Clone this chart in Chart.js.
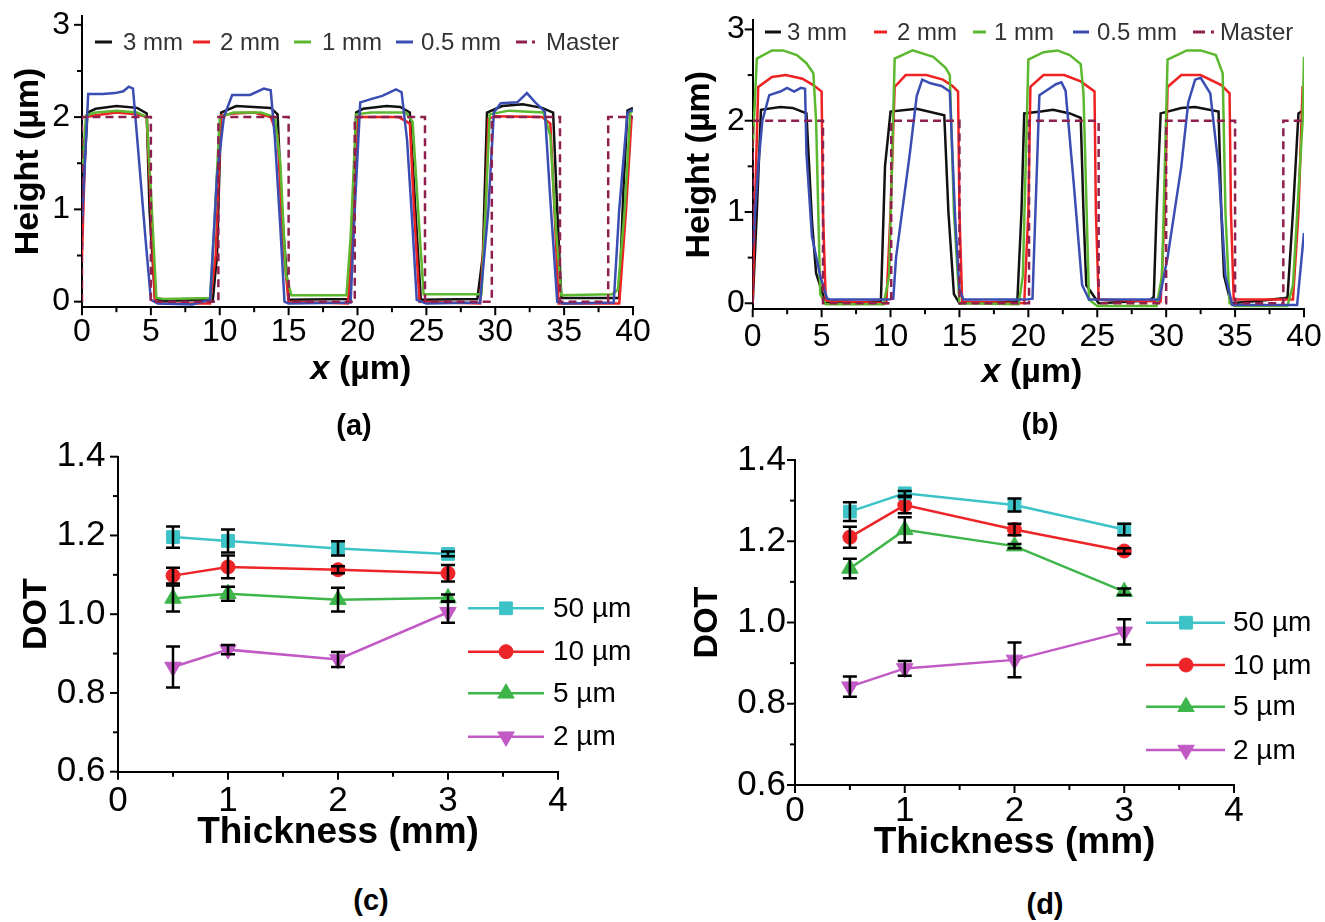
<!DOCTYPE html>
<html><head><meta charset="utf-8">
<script src="https://cdn.jsdelivr.net/npm/chart.js@4.4.1/dist/chart.umd.min.js"></script>
<style>
html,body{margin:0;padding:0;background:#fff}
body{width:1325px;height:922px;position:relative;overflow:hidden;font-family:"Liberation Sans",Arial,Helvetica,sans-serif}
canvas{position:absolute}
.plab{position:absolute;font-weight:bold;font-size:29px;color:#000;transform:translate(-50%,-50%);white-space:nowrap}
</style></head><body>
<canvas id="ca" width="660" height="400" style="left:0;top:0"></canvas>
<canvas id="cb" width="665" height="400" style="left:660px;top:0"></canvas>
<canvas id="cc" width="660" height="440" style="left:0;top:440px"></canvas>
<canvas id="cd" width="665" height="440" style="left:660px;top:440px"></canvas>
<div class="plab" style="left:354px;top:425px">(a)</div>
<div class="plab" style="left:1040px;top:424px">(b)</div>
<div class="plab" style="left:371px;top:900px">(c)</div>
<div class="plab" style="left:1045px;top:904px">(d)</div>
<script>
// ================= DATA =================
const profileLabels = ['3 mm', '2 mm', '1 mm', '0.5 mm', 'Master'];
const profXTicks = [0, 5, 10, 15, 20, 25, 30, 35, 40];
const profYTicks = [0, 1, 2, 3];

// (a) height profiles [x (µm), height (µm)]
const a_3mm = [[0,1.0],[0.4,2.05],[1.0,2.09],[2.5,2.12],[4.0,2.10],[4.7,2.04],[4.9,1.0],[5.3,0.03],[6,0.01],[9.5,0.02],[9.8,0.5],[10.1,2.05],[11.2,2.12],[13.7,2.1],[14.2,2.03],[14.5,1.0],[15.0,0.02],[19.4,0.03],[19.7,1.0],[19.9,2.05],[20.4,2.09],[22.1,2.12],[23.1,2.11],[23.8,2.05],[24.2,1.0],[24.6,0.02],[28.7,0.03],[29.1,0.5],[29.4,2.05],[30.5,2.12],[32.0,2.14],[33.4,2.1],[34.2,2.05],[34.5,1.0],[34.8,0.04],[39.0,0.04],[39.3,1.2],[39.6,2.07],[40,2.1]];
const a_2mm = [[0,0.5],[0.3,2.0],[1,2.02],[2.5,2.05],[4.0,2.03],[4.7,2.0],[5.0,1.0],[5.3,0.0],[6,-0.02],[9.3,-0.02],[9.7,0.5],[10.1,2.02],[11,2.04],[12.5,2.05],[13.7,2.0],[14.2,1.8],[14.6,0.6],[15.0,0.0],[19.3,-0.02],[19.7,0.8],[20.0,2.0],[21,2.0],[23,2.0],[23.8,1.93],[24.1,1.0],[24.5,0.0],[28.9,-0.02],[29.3,1.0],[29.5,1.98],[30,2.01],[33.4,2.0],[34.0,1.93],[34.3,1.0],[34.6,-0.02],[39.0,-0.02],[39.5,1.0],[39.9,2.0],[40,1.98]];
const a_1mm = [[0,1.4],[0.3,2.02],[1,2.05],[2.5,2.07],[4.0,2.05],[4.7,2.0],[5.0,1.2],[5.4,0.04],[6,0.03],[9.3,0.04],[9.6,0.8],[10.0,2.0],[11,2.05],[13,2.05],[14.0,2.0],[14.4,1.5],[14.8,0.3],[15.2,0.07],[19.2,0.07],[19.5,0.7],[19.9,2.03],[21,2.05],[23.5,2.05],[24.0,1.95],[24.4,1.0],[24.8,0.08],[29.0,0.08],[29.3,1.0],[29.6,2.03],[31,2.07],[33.5,2.05],[34.0,1.8],[34.4,0.8],[34.8,0.07],[38.5,0.08],[38.9,0.13],[39.4,1.0],[39.8,2.05],[40,2.07]];
const a_05mm = [[0,0.85],[0.45,2.25],[1.5,2.25],[2.4,2.26],[3.0,2.28],[3.4,2.33],[3.7,2.31],[4.0,1.78],[4.6,0.7],[5.0,0.02],[5.5,-0.02],[8,-0.03],[9.3,0.02],[9.8,1.37],[10.3,2.0],[10.9,2.24],[12.2,2.24],[13.2,2.31],[13.7,2.29],[14.0,1.78],[14.4,0.8],[14.7,0.0],[15,-0.02],[19.5,-0.01],[19.8,1.0],[20.2,2.16],[21.1,2.2],[21.8,2.23],[22.8,2.3],[23.2,2.27],[23.6,1.75],[24.0,0.8],[24.3,0.02],[25,-0.02],[28.9,-0.01],[29.5,1.0],[29.9,2.05],[30.4,2.15],[31.6,2.16],[32.3,2.26],[32.9,2.16],[33.6,2.06],[34.0,1.1],[34.5,0.0],[35,-0.02],[38.6,-0.01],[39.0,1.0],[39.6,2.05],[40,2.08]];
const a_master = [[0,0],[0,2],[5.0,2],[5.0,0],[9.9,0],[9.9,2],[15.0,2],[15.0,0],[19.8,0],[19.8,2],[24.9,2],[24.9,0],[29.75,0],[29.75,2],[34.7,2],[34.7,0],[38.2,0],[38.2,2],[40,2]];

// (b) height profiles
const b_3mm = [[0,0],[0.3,1.0],[0.6,2.12],[2.0,2.15],[2.9,2.14],[3.9,2.08],[4.3,0.9],[4.6,0.33],[5.3,0.0],[9.3,0.02],[9.6,1.5],[10.0,2.1],[11.9,2.13],[13.9,2.06],[14.2,1.0],[14.6,0.1],[15.0,0.0],[19.2,0.02],[19.5,1.0],[19.7,2.08],[20.9,2.1],[21.8,2.12],[23.0,2.08],[23.8,2.03],[24.0,1.0],[24.2,0.2],[25.1,0.0],[28.8,0.03],[29.1,0.07],[29.3,1.0],[29.6,2.08],[31.1,2.14],[32.1,2.15],[33.8,2.1],[34.0,1.0],[34.2,0.3],[34.7,0.0],[37,0.03],[38.8,0.06],[39.2,1.0],[39.6,2.08],[40,2.12]];
const b_2mm = [[0,0],[0.15,1.0],[0.4,2.37],[1.4,2.48],[2.4,2.5],[3.6,2.46],[4.4,2.39],[5.0,2.32],[5.1,1.0],[5.3,0.03],[9.7,0.0],[10.0,1.0],[10.3,2.37],[11.1,2.5],[12.6,2.5],[13.8,2.45],[14.5,2.38],[14.9,2.32],[15.0,1.0],[15.2,0.02],[19.7,0.0],[20.0,1.0],[20.15,2.37],[21.1,2.5],[22.6,2.5],[23.8,2.43],[24.8,2.32],[24.9,1.0],[25.1,0.04],[29.6,0.02],[29.9,1.0],[30.1,2.37],[31.1,2.5],[32.5,2.5],[34.0,2.39],[34.6,2.3],[34.7,1.0],[34.9,0.04],[39.2,0.04],[39.6,1.0],[39.9,2.37],[40,2.38]];
const b_1mm = [[0,1.7],[0.3,2.68],[1.4,2.77],[2.2,2.77],[3.2,2.72],[3.9,2.63],[4.4,2.52],[4.6,2.0],[4.9,0.1],[5.3,-0.01],[9.5,-0.01],[9.9,0.3],[10.3,2.68],[11.6,2.77],[13.1,2.7],[14.0,2.58],[14.3,2.5],[14.6,1.0],[15.0,0.0],[19.3,-0.01],[19.6,0.3],[20.0,2.67],[21.1,2.75],[22.1,2.77],[23.0,2.72],[23.8,2.62],[24.0,2.3],[24.4,0.04],[25,-0.03],[29.3,-0.03],[29.7,0.3],[30.1,2.67],[31.5,2.77],[32.5,2.77],[33.6,2.72],[34.1,2.52],[34.3,1.0],[34.6,0.0],[35,-0.03],[38.8,-0.03],[39.2,0.2],[39.9,2.0],[40,2.7]];
const b_05mm = [[0,0.6],[0.4,1.5],[0.7,2.0],[1.2,2.28],[2.0,2.32],[2.5,2.36],[3.0,2.32],[3.5,2.36],[3.8,2.35],[3.9,1.64],[4.3,0.73],[4.9,0.3],[5.4,0.05],[5.7,0.04],[9.8,0.04],[10.2,0.05],[10.4,0.5],[11.4,1.64],[11.9,2.27],[12.3,2.45],[12.9,2.41],[13.7,2.38],[14.3,2.32],[14.7,0.9],[15.0,0.15],[15.3,0.04],[19.8,0.04],[20.3,0.05],[20.8,2.28],[21.4,2.34],[22.0,2.4],[22.4,2.42],[22.7,2.33],[23.3,1.3],[23.9,0.2],[24.4,0.04],[29.5,0.04],[30.1,0.5],[31.1,1.5],[31.6,2.2],[32.1,2.45],[32.5,2.47],[33.2,2.3],[33.8,1.5],[34.3,0.3],[34.8,-0.02],[39.5,-0.02],[40,0.77]];
const b_master = [[0,0],[0,2],[5.1,2],[5.1,0],[10.05,0],[10.05,2],[15.0,2],[15.0,0],[20.05,0],[20.05,2],[25.1,2],[25.1,0],[30.0,0],[30.0,2],[35.0,2],[35.0,0],[38.5,0],[38.5,2],[40,2]];

// (c),(d) DOT vs thickness
const thickness = [0.5, 1, 2, 3];
const dotLabels = ['50 µm', '10 µm', '5 µm', '2 µm'];
const dotXTicks = [0, 1, 2, 3, 4];
const dotYTicks = [0.6, 0.8, 1.0, 1.2, 1.4];
const c_50 = [1.196, 1.186, 1.167, 1.153];   const c_50_err = [0.027, 0.029, 0.018, 0.006];
const c_10 = [1.098, 1.120, 1.113, 1.104];   const c_10_err = [0.020, 0.029, 0.009, 0.021];
const c_5  = [1.040, 1.052, 1.037, 1.041];   const c_5_err  = [0.033, 0.018, 0.030, 0.009];
const c_2  = [0.866, 0.910, 0.885, 1.005];   const c_2_err  = [0.052, 0.012, 0.019, 0.027];
const d_50 = [1.273, 1.318, 1.289, 1.229];   const d_50_err = [0.023, 0.006, 0.016, 0.014];
const d_10 = [1.210, 1.289, 1.229, 1.176];   const d_10_err = [0.026, 0.020, 0.014, 0.007];
const d_5  = [1.133, 1.228, 1.188, 1.076];   const d_5_err  = [0.024, 0.031, 0.005, 0.008];
const d_2  = [0.842, 0.887, 0.908, 0.977];   const d_2_err  = [0.025, 0.018, 0.043, 0.031];

// ================= STYLE =================
const FF = '"Liberation Sans", Arial, Helvetica, sans-serif';
Chart.defaults.font.family = FF;
const PROF_COLORS = ['#111111', '#ee2222', '#5cb82e', '#3a4db3', '#8e1f4e'];
const PROF_ORDER = [4, 3, 2, 1, 0];
const DOT_STYLE = [
  {color: '#3cc3c8', ps: 'rect', r: 9, rot: 0},
  {color: '#ee2528', ps: 'circle', r: 7, rot: 0},
  {color: '#3db54a', ps: 'triangle', r: 9.5, rot: 0},
  {color: '#c15ac4', ps: 'triangle', r: 9.5, rot: 180}
];

function majorLabel(list, digits) {
  return v => {
    const m = list.find(t => Math.abs(t - v) < 1e-6);
    return m === undefined ? '' : m.toFixed(digits);
  };
}

// ================= PLUGINS =================
const tickMarks = {
  id: 'tickMarks',
  afterDraw(chart, args, o) {
    const ctx = chart.ctx, a = chart.chartArea;
    ctx.save(); ctx.strokeStyle = '#000'; ctx.lineWidth = 2;
    ['x', 'y'].forEach(k => {
      const s = chart.scales[k];
      s.ticks.forEach(t => {
        const p = s.getPixelForValue(t.value);
        const len = t.label !== '' ? o.major : o.minor;
        ctx.beginPath();
        if (k === 'x') { ctx.moveTo(p, a.bottom); ctx.lineTo(p, a.bottom + len); }
        else { ctx.moveTo(a.left, p); ctx.lineTo(a.left - len, p); }
        ctx.stroke();
      });
    });
    ctx.restore();
  }
};

const rowLegend = {
  id: 'rowLegend',
  afterDraw(chart, args, o) {
    const ctx = chart.ctx;
    ctx.save();
    ctx.font = o.font; ctx.fillStyle = o.color; ctx.textBaseline = 'middle'; ctx.textAlign = 'left';
    chart.data.datasets.forEach((ds, i) => {
      const it = o.items[i];
      ctx.beginPath();
      ctx.strokeStyle = ds.borderColor; ctx.lineWidth = 3;
      ctx.setLineDash(it[3] || []);
      ctx.moveTo(it[0], o.y); ctx.lineTo(it[1], o.y); ctx.stroke();
      ctx.setLineDash([]);
      ctx.fillText(ds.label, it[2], o.y + 1);
    });
    ctx.restore();
  }
};

const xTitle = {
  id: 'xTitle',
  afterDraw(chart, args, o) {
    const ctx = chart.ctx;
    ctx.save();
    ctx.fillStyle = '#000'; ctx.textBaseline = 'middle'; ctx.textAlign = 'left';
    const fi = 'italic bold ' + o.size + 'px ' + FF, fb = 'bold ' + o.size + 'px ' + FF;
    ctx.font = fi; const w1 = ctx.measureText('x').width;
    ctx.font = fb; const w2 = ctx.measureText(' (µm)').width;
    const x0 = o.x - (w1 + w2) / 2;
    ctx.font = fi; ctx.fillText('x', x0, o.y);
    ctx.font = fb; ctx.fillText(' (µm)', x0 + w1, o.y);
    ctx.restore();
  }
};

function drawMarker(ctx, ps, x, y, r, rot, color) {
  ctx.save();
  ctx.fillStyle = color; ctx.strokeStyle = color; ctx.lineWidth = 1;
  ctx.beginPath();
  if (ps === 'rect') {
    const s = Math.SQRT1_2 * r; ctx.rect(x - s, y - s, 2 * s, 2 * s);
  } else if (ps === 'circle') {
    ctx.arc(x, y, r, 0, Math.PI * 2);
  } else {
    let rad = rot * Math.PI / 180;
    ctx.moveTo(x + Math.sin(rad) * r, y - Math.cos(rad) * r);
    rad += 2 * Math.PI / 3; ctx.lineTo(x + Math.sin(rad) * r, y - Math.cos(rad) * r);
    rad += 2 * Math.PI / 3; ctx.lineTo(x + Math.sin(rad) * r, y - Math.cos(rad) * r);
    ctx.closePath();
  }
  ctx.fill(); ctx.stroke();
  ctx.restore();
}

const colLegend = {
  id: 'colLegend',
  afterDraw(chart, args, o) {
    const ctx = chart.ctx;
    ctx.save();
    ctx.font = o.font; ctx.fillStyle = '#000'; ctx.textBaseline = 'middle'; ctx.textAlign = 'left';
    chart.data.datasets.forEach((ds, i) => {
      const y = o.ys[i];
      ctx.beginPath(); ctx.strokeStyle = ds.borderColor; ctx.lineWidth = ds.borderWidth;
      ctx.moveTo(o.x0, y); ctx.lineTo(o.x1, y); ctx.stroke();
      drawMarker(ctx, ds.pointStyle, o.xm, y, ds.pointRadius, ds.pointRotation, ds.pointBackgroundColor);
      ctx.fillText(ds.label, o.xt, y + 1);
    });
    ctx.restore();
  }
};

const errorBars = {
  id: 'errorBars',
  afterDatasetsDraw(chart, args, o) {
    const ctx = chart.ctx, ys = chart.scales.y;
    ctx.save(); ctx.strokeStyle = '#000'; ctx.lineWidth = o.width;
    chart.data.datasets.forEach((ds, i) => {
      const meta = chart.getDatasetMeta(i);
      meta.data.forEach((pt, j) => {
        const v = ds.data[j].y, e = ds.err[j];
        const yt = ys.getPixelForValue(v + e), yb = ys.getPixelForValue(v - e);
        ctx.beginPath();
        ctx.moveTo(pt.x, yt); ctx.lineTo(pt.x, yb);
        ctx.moveTo(pt.x - o.cap, yt); ctx.lineTo(pt.x + o.cap, yt);
        ctx.moveTo(pt.x - o.cap, yb); ctx.lineTo(pt.x + o.cap, yb);
        ctx.stroke();
      });
    });
    ctx.restore();
  }
};

// ================= CHART BUILDERS =================
function axisBase() {
  return {
    border: {display: true, color: '#000', width: 2},
    grid: {display: true, drawOnChartArea: false, drawTicks: true, tickLength: 8, tickColor: 'rgba(0,0,0,0)'}
  };
}

function profileChart(id, series, L) {
  const datasets = series.map((pts, i) => ({
    label: profileLabels[i],
    data: pts.map(p => ({x: p[0], y: p[1]})),
    borderColor: PROF_COLORS[i],
    borderWidth: 2.5,
    borderDash: i === 4 ? [8, 5] : [],
    pointRadius: 0, tension: 0, fill: false,
    order: PROF_ORDER[i]
  }));
  return new Chart(document.getElementById(id), {
    type: 'line',
    data: {datasets},
    options: {
      responsive: false, animation: false, events: [],
      layout: {padding: L.pad},
      scales: {
        x: Object.assign(axisBase(), {
          type: 'linear', min: 0, max: 40,
          afterFit: s => { s.height = L.xH; s.paddingLeft = 0; s.paddingRight = 0; },
          ticks: {stepSize: 2.5, maxTicksLimit: 1000, autoSkip: false, maxRotation: 0, minRotation: 0,
                  padding: L.xPad, color: '#000', font: {size: 32, lineHeight: 1}, callback: majorLabel(profXTicks, 0)},
          title: {display: false}
        }),
        y: Object.assign(axisBase(), {
          type: 'linear', min: L.yMin, max: 3.1,
          afterFit: s => { s.width = L.yW; s.paddingTop = 0; s.paddingBottom = 0; },
          ticks: {stepSize: 0.5, maxTicksLimit: 1000, includeBounds: false, autoSkip: false,
                  padding: L.yPad, color: '#000', font: {size: 32, lineHeight: 1}, callback: majorLabel(profYTicks, 0)},
          title: {display: true, text: 'Height (µm)', color: '#000',
                  font: {size: 34, weight: 'bold', lineHeight: 1}, padding: {top: L.yTitlePad, bottom: 0}}
        })
      },
      plugins: {
        legend: {display: false}, tooltip: {enabled: false},
        tickMarks: {major: 8, minor: 5},
        rowLegend: {items: L.legend, y: L.legY, font: '24px ' + FF, color: '#333'},
        xTitle: {x: L.xTitleX, y: L.xTitleY, size: 34}
      }
    },
    plugins: [tickMarks, rowLegend, xTitle]
  });
}

function dotChart(id, vals, errs, L) {
  const datasets = vals.map((v, i) => ({
    label: dotLabels[i],
    data: thickness.map((t, j) => ({x: t, y: v[j]})),
    err: errs[i],
    borderColor: DOT_STYLE[i].color,
    borderWidth: 2.5,
    pointStyle: DOT_STYLE[i].ps,
    pointRadius: DOT_STYLE[i].r,
    pointRotation: DOT_STYLE[i].rot,
    pointBackgroundColor: DOT_STYLE[i].color,
    pointBorderColor: DOT_STYLE[i].color,
    pointBorderWidth: 1,
    tension: 0, fill: false
  }));
  return new Chart(document.getElementById(id), {
    type: 'line',
    data: {datasets},
    options: {
      responsive: false, animation: false, events: [],
      layout: {padding: L.pad},
      scales: {
        x: Object.assign(axisBase(), {
          type: 'linear', min: 0, max: 4,
          afterFit: s => { s.height = L.xH; s.paddingLeft = 0; s.paddingRight = 0; },
          ticks: {stepSize: 0.5, maxTicksLimit: 1000, autoSkip: false, maxRotation: 0, minRotation: 0,
                  padding: L.xPad, color: '#000', font: {size: 35, lineHeight: 1}, callback: majorLabel(dotXTicks, 0)},
          title: {display: true, text: 'Thickness (mm)', color: '#000',
                  font: {size: 37, weight: 'bold', lineHeight: 1}, padding: {top: 0, bottom: L.xTitlePad}}
        }),
        y: Object.assign(axisBase(), {
          type: 'linear', min: 0.6, max: 1.4,
          afterFit: s => { s.width = L.yW; s.paddingTop = 0; s.paddingBottom = 0; },
          ticks: {stepSize: 0.1, maxTicksLimit: 1000, includeBounds: false, autoSkip: false,
                  padding: L.yPad, color: '#000', font: {size: 35, lineHeight: 1}, callback: majorLabel(dotYTicks, 1)},
          title: {display: true, text: 'DOT', color: '#000',
                  font: {size: 34, weight: 'bold', lineHeight: 1}, padding: {top: L.yTitlePad, bottom: 0}}
        })
      },
      plugins: {
        legend: {display: false}, tooltip: {enabled: false},
        tickMarks: {major: 8, minor: 5},
        errorBars: {width: 2.5, cap: 7},
        colLegend: {x0: L.lx0, x1: L.lx1, xm: L.lxm, xt: L.lxt, ys: L.lys, font: '28px ' + FF}
      }
    },
    plugins: [tickMarks, errorBars, colLegend]
  });
}

// ================= BUILD =================
profileChart('ca', [a_3mm, a_2mm, a_1mm, a_05mm, a_master], {
  pad: {left: 0, top: 15.6, right: 27, bottom: 0}, yW: 82, xH: 92.8, yMin: -0.06,
  xPad: 1, yPad: 4, yTitlePad: 12, xTitleX: 361, xTitleY: 370,
  legY: 42,
  legend: [[95,112,123],[193,210,220],[294,311,322],[396,413,421],[516,536,546,[11,5,3,40]]]
});
profileChart('cb', [b_3mm, b_2mm, b_1mm, b_05mm, b_master], {
  pad: {left: 0, top: 20.3, right: 21, bottom: 0}, yW: 92.7, xH: 90.8, yMin: -0.065,
  xPad: 3.5, yPad: 0, yTitlePad: 23, xTitleX: 372, xTitleY: 373,
  legY: 32,
  legend: [[105,121,127],[214,227,237],[313,326,334],[413,429,437],[533,554,560,[12,6,3,40]]]
});
dotChart('cc', [c_50, c_10, c_5, c_2], [c_50_err, c_10_err, c_5_err, c_2_err], {
  pad: {left: 0, top: 16.7, right: 102, bottom: 0}, yW: 118, xH: 108.3,
  xPad: 4.5, yPad: 4.5, yTitlePad: 20, xTitlePad: 28.5,
  lx0: 468, lx1: 544, lxm: 506, lxt: 553, lys: [168.3, 211.7, 253.3, 296.7]
});
dotChart('cd', [d_50, d_10, d_5, d_2], [d_50_err, d_10_err, d_5_err, d_2_err], {
  pad: {left: 0, top: 20, right: 91, bottom: 0}, yW: 135, xH: 95,
  xPad: 1.2, yPad: 1, yTitlePad: 30.5, xTitlePad: 18.5,
  lx0: 486, lx1: 565, lxm: 526, lxt: 573, lys: [182.7, 225, 266.7, 310]
});
</script>
</body></html>
